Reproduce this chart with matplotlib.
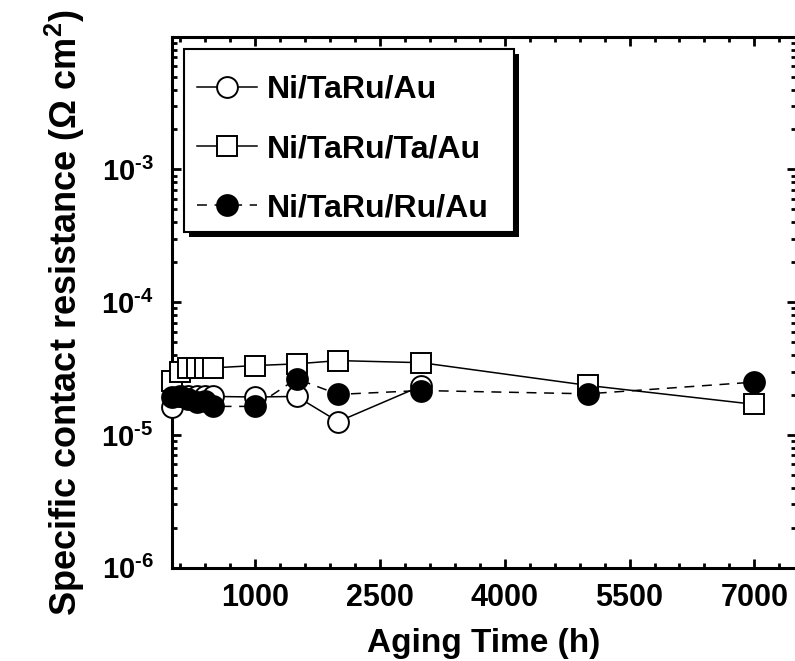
import matplotlib
matplotlib.use("Agg")
import matplotlib.pyplot as plt
from matplotlib.ticker import FixedLocator, LogLocator, NullFormatter
from matplotlib.patches import Rectangle

plt.rcParams['font.family'] = ['Liberation Sans', 'DejaVu Sans']
plt.rcParams['font.weight'] = 'bold'
plt.rcParams['mathtext.fontset'] = 'custom'
plt.rcParams['mathtext.rm'] = 'Liberation Sans:bold'
plt.rcParams['mathtext.bf'] = 'Liberation Sans:bold'
plt.rcParams['mathtext.it'] = 'Liberation Sans:bold'

# aging times (h) and specific contact resistance (ohm cm^2)
hours = [0, 100, 200, 300, 400, 500, 1000, 1500, 2000, 3000, 5000, 7000]
hours_tarau = [0, 100, 200, 300, 400, 500, 1000, 1500, 2000, 3000]
rc_tarau = [1.63e-5, 1.98e-5, 1.98e-5, 1.95e-5, 1.95e-5, 1.95e-5, 1.93e-5, 1.95e-5, 1.26e-5, 2.34e-5]
rc_ta = [2.55e-5, 3.0e-5, 3.2e-5, 3.2e-5, 3.2e-5, 3.2e-5, 3.33e-5, 3.43e-5, 3.63e-5, 3.5e-5, 2.36e-5, 1.7e-5]
rc_ru = [1.93e-5, 1.97e-5, 1.87e-5, 1.77e-5, 1.8e-5, 1.64e-5, 1.64e-5, 2.65e-5, 2.02e-5, 2.16e-5, 2.04e-5, 2.5e-5]

labels = ['Ni/TaRu/Au', 'Ni/TaRu/Ta/Au', 'Ni/TaRu/Ru/Au']
x_major = [1000, 2500, 4000, 5500, 7000]
y_major = [1e-6, 1e-5, 1e-4, 1e-3]
y_labels = [r'$10^{\text{-}6}$', r'$10^{\text{-}5}$', r'$10^{\text{-}4}$', r'$10^{\text{-}3}$']

W, H = 795, 661
fig = plt.figure(figsize=(W / 100, H / 100), dpi=100)
ax = fig.add_axes([0.216, 0.1412, 0.7853, 0.8033])

ms = 15
mew = 1.4
ax.plot(hours_tarau, rc_tarau, '-', color='black', lw=1.1, marker='o', ms=ms,
        mfc='white', mec='black', mew=mew, clip_on=False, zorder=3, label=labels[0])
ax.plot(hours, rc_ta, '-', color='black', lw=1.1, marker='s', ms=ms,
        mfc='white', mec='black', mew=mew, clip_on=False, zorder=4, label=labels[1])
ax.plot(hours, rc_ru, color='black', lw=1.1, dashes=(6.5, 5), marker='o', ms=ms,
        mfc='black', mec='black', mew=mew, clip_on=False, zorder=5, label=labels[2])

ax.set_yscale('log')
ax.set_xlim(0, 7500)
ax.set_ylim(1e-6, 1e-2)

ax.xaxis.set_major_locator(FixedLocator(x_major))
ax.xaxis.set_minor_locator(FixedLocator(list(range(100, 7500, 300))))
ax.set_xticklabels([str(v) for v in x_major])
ax.yaxis.set_major_locator(FixedLocator(y_major))
ax.yaxis.set_minor_locator(LogLocator(base=10, subs=range(2, 10)))
ax.yaxis.set_minor_formatter(NullFormatter())
ax.set_yticklabels(y_labels)

for s in ax.spines.values():
    s.set_linewidth(2.2)
ax.tick_params(which='both', direction='in', top=True, right=True, width=2.0)
ax.tick_params(which='major', length=6.5)
ax.tick_params(which='minor', length=3.5)
ax.tick_params(axis='x', which='major', labelsize=22, pad=11)
ax.tick_params(axis='y', which='major', labelsize=21, pad=13)

ax.set_xlabel('Aging Time (h)', fontsize=24, fontweight='bold', labelpad=11)
ax.set_ylabel('Specific contact resistance (Ω cm$^{2}$)', fontsize=26,
              fontweight='bold')
ax.yaxis.set_label_coords(-0.135, 0.48)

# legend entries without their own frame; the box is drawn separately
leg = ax.legend(loc='upper left', bbox_to_anchor=(184 / W, 1 - 62 / H),
                bbox_transform=fig.transFigure, borderaxespad=0, frameon=False,
                fontsize=23, handlelength=1.9, handletextpad=0.3, borderpad=0.4,
                labelspacing=0.92, numpoints=1)
leg.set_zorder(10)

box_x, box_y, box_w, box_h = 184 / W, 1 - 232 / H, 330 / W, 183 / H
shadow = Rectangle((box_x + 5 / W, box_y - 5 / H), box_w, box_h,
                   transform=fig.transFigure, facecolor='black',
                   edgecolor='none', zorder=8, clip_on=False)
frame = Rectangle((box_x, box_y), box_w, box_h, transform=fig.transFigure,
                  facecolor='white', edgecolor='black', lw=1.5, zorder=9,
                  clip_on=False)
ax.add_artist(shadow)
ax.add_artist(frame)

fig.savefig('out.png', dpi=100)
